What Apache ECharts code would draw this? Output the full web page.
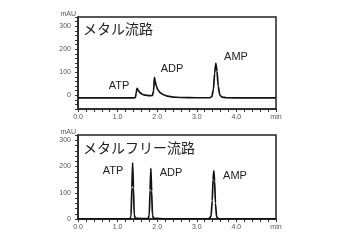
<!DOCTYPE html>
<html><head><meta charset="utf-8">
<script src="https://cdn.jsdelivr.net/npm/echarts@6/dist/echarts.min.js"></script>
<style>html,body{margin:0;padding:0;background:#fff}#c{width:350px;height:250px}</style>
</head><body><div id="c"></div>
<script>
// Metal flow path trace (min, mAU)
var metalTime = [0, 1.40, 1.45, 1.47, 1.49, 1.52, 1.56, 1.62, 1.70, 1.80, 1.88, 1.91, 1.93, 1.95, 1.98, 2.02, 2.08, 2.16, 2.26, 2.40, 2.60, 3.00, 3.33, 3.38, 3.42, 3.45, 3.48, 3.51, 3.54, 3.58, 3.63, 3.75, 4.2, 5.0];
var metalValue = [-12, -12, -10, 10, 30, 22, 12, 4, 0, -2, -1, 20, 78, 60, 38, 22, 10, 2, -4, -8, -10, -11, -11, -6, 25, 95, 139, 105, 40, 2, -8, -11, -12, -12];
// Metal-free flow path trace
var freeTime = [0, 1.31, 1.34, 1.36, 1.38, 1.40, 1.42, 1.45, 1.60, 1.77, 1.80, 1.82, 1.84, 1.86, 1.88, 1.91, 2.2, 3.30, 3.36, 3.39, 3.41, 3.43, 3.45, 3.47, 3.50, 3.55, 5.0];
var freeValue = [1, 1, 10, 120, 214, 120, 15, 3, 2, 2, 15, 110, 193, 105, 15, 3, 1, 1, 10, 70, 150, 183, 145, 60, 8, 1, 1];

var yTicksTop = [0, 100, 200, 300];
var yTicksBottom = [0, 100, 200, 300];
var xTicks = [0, 1, 2, 3, 4];
var peakNames = ['ATP', 'ADP', 'AMP'];
var panelTitles = ['メタル流路', 'メタルフリー流路'];
var yUnit = 'mAU';
var xUnit = 'min';

function pairs(t, v) { return t.map(function (x, i) { return [x, v[i]]; }); }

var labelStyle = { fontSize: 7, color: '#555', fontFamily: 'Liberation Sans' };
function xAxis(idx) {
  return {
    type: 'value', gridIndex: idx, min: 0, max: 5, interval: 0.2,
    axisLine: { show: true, onZero: false, lineStyle: { color: '#222', width: 1.5 } },
    axisTick: { show: true, inside: false, length: 3, lineStyle: { color: '#333', width: 1 } },
    splitLine: { show: false },
    axisLabel: Object.assign({
      margin: 5,
      formatter: function (v) {
        if (Math.abs(v - 5) < 1e-6) return xUnit;
        var r = Math.round(v);
        if (Math.abs(v - r) < 1e-6 && xTicks.indexOf(r) >= 0) return r.toFixed(1);
        return '';
      }
    }, labelStyle)
  };
}
function yAxis(idx, min, max, ticks) {
  return {
    type: 'value', gridIndex: idx, min: min, max: max, interval: 20,
    axisLine: { show: true, onZero: false, lineStyle: { color: '#222', width: 1.5 } },
    axisTick: { show: true, inside: false, length: 3, lineStyle: { color: '#333', width: 1 } },
    splitLine: { show: false },
    axisLabel: Object.assign({
      margin: 7,
      formatter: function (v) {
        var r = Math.round(v);
        return (Math.abs(v - r) < 1e-6 && ticks.indexOf(r) >= 0) ? String(r) : '';
      }
    }, labelStyle)
  };
}
function txt(x, y, s, size, align) {
  return { type: 'text', x: x, y: y, style: { text: s, fontSize: size, fill: '#222', align: align || 'left', verticalAlign: 'middle', fontFamily: 'Liberation Sans, "Noto Sans CJK JP"' } };
}

var chart = echarts.init(document.getElementById('c'));
chart.setOption({
  animation: false,
  backgroundColor: '#fff',
  grid: [
    { left: 78, top: 17, width: 198, height: 92, show: true, borderColor: '#222', borderWidth: 1.5 },
    { left: 78, top: 135, width: 198, height: 84, show: true, borderColor: '#222', borderWidth: 1.5 }
  ],
  xAxis: [xAxis(0), xAxis(1)],
  yAxis: [yAxis(0, -60, 340, yTicksTop), yAxis(1, 0, 320, yTicksBottom)],
  series: [
    { type: 'line', xAxisIndex: 0, yAxisIndex: 0, data: pairs(metalTime, metalValue), showSymbol: false, smooth: 0.2, smoothMonotone: 'x', lineStyle: { color: '#111', width: 1.7 } },
    { type: 'line', xAxisIndex: 1, yAxisIndex: 1, data: pairs(freeTime, freeValue), showSymbol: false, smooth: 0.2, smoothMonotone: 'x', lineStyle: { color: '#111', width: 1.7 } }
  ],
  graphic: [
    txt(83, 30, panelTitles[0], 14),
    txt(83, 149, panelTitles[1], 14),
    txt(119, 86, peakNames[0], 11, 'center'),
    txt(172, 69, peakNames[1], 11, 'center'),
    txt(236, 57, peakNames[2], 11, 'center'),
    txt(113, 171, peakNames[0], 11, 'center'),
    txt(171, 173, peakNames[1], 11, 'center'),
    txt(235, 176, peakNames[2], 11, 'center'),
    { type: 'text', x: 76, y: 14, style: { text: yUnit, fontSize: 7, fill: '#555', align: 'right', verticalAlign: 'middle', fontFamily: 'Liberation Sans' } },
    { type: 'text', x: 76, y: 132, style: { text: yUnit, fontSize: 7, fill: '#555', align: 'right', verticalAlign: 'middle', fontFamily: 'Liberation Sans' } }
  ]
});
</script></body></html>
